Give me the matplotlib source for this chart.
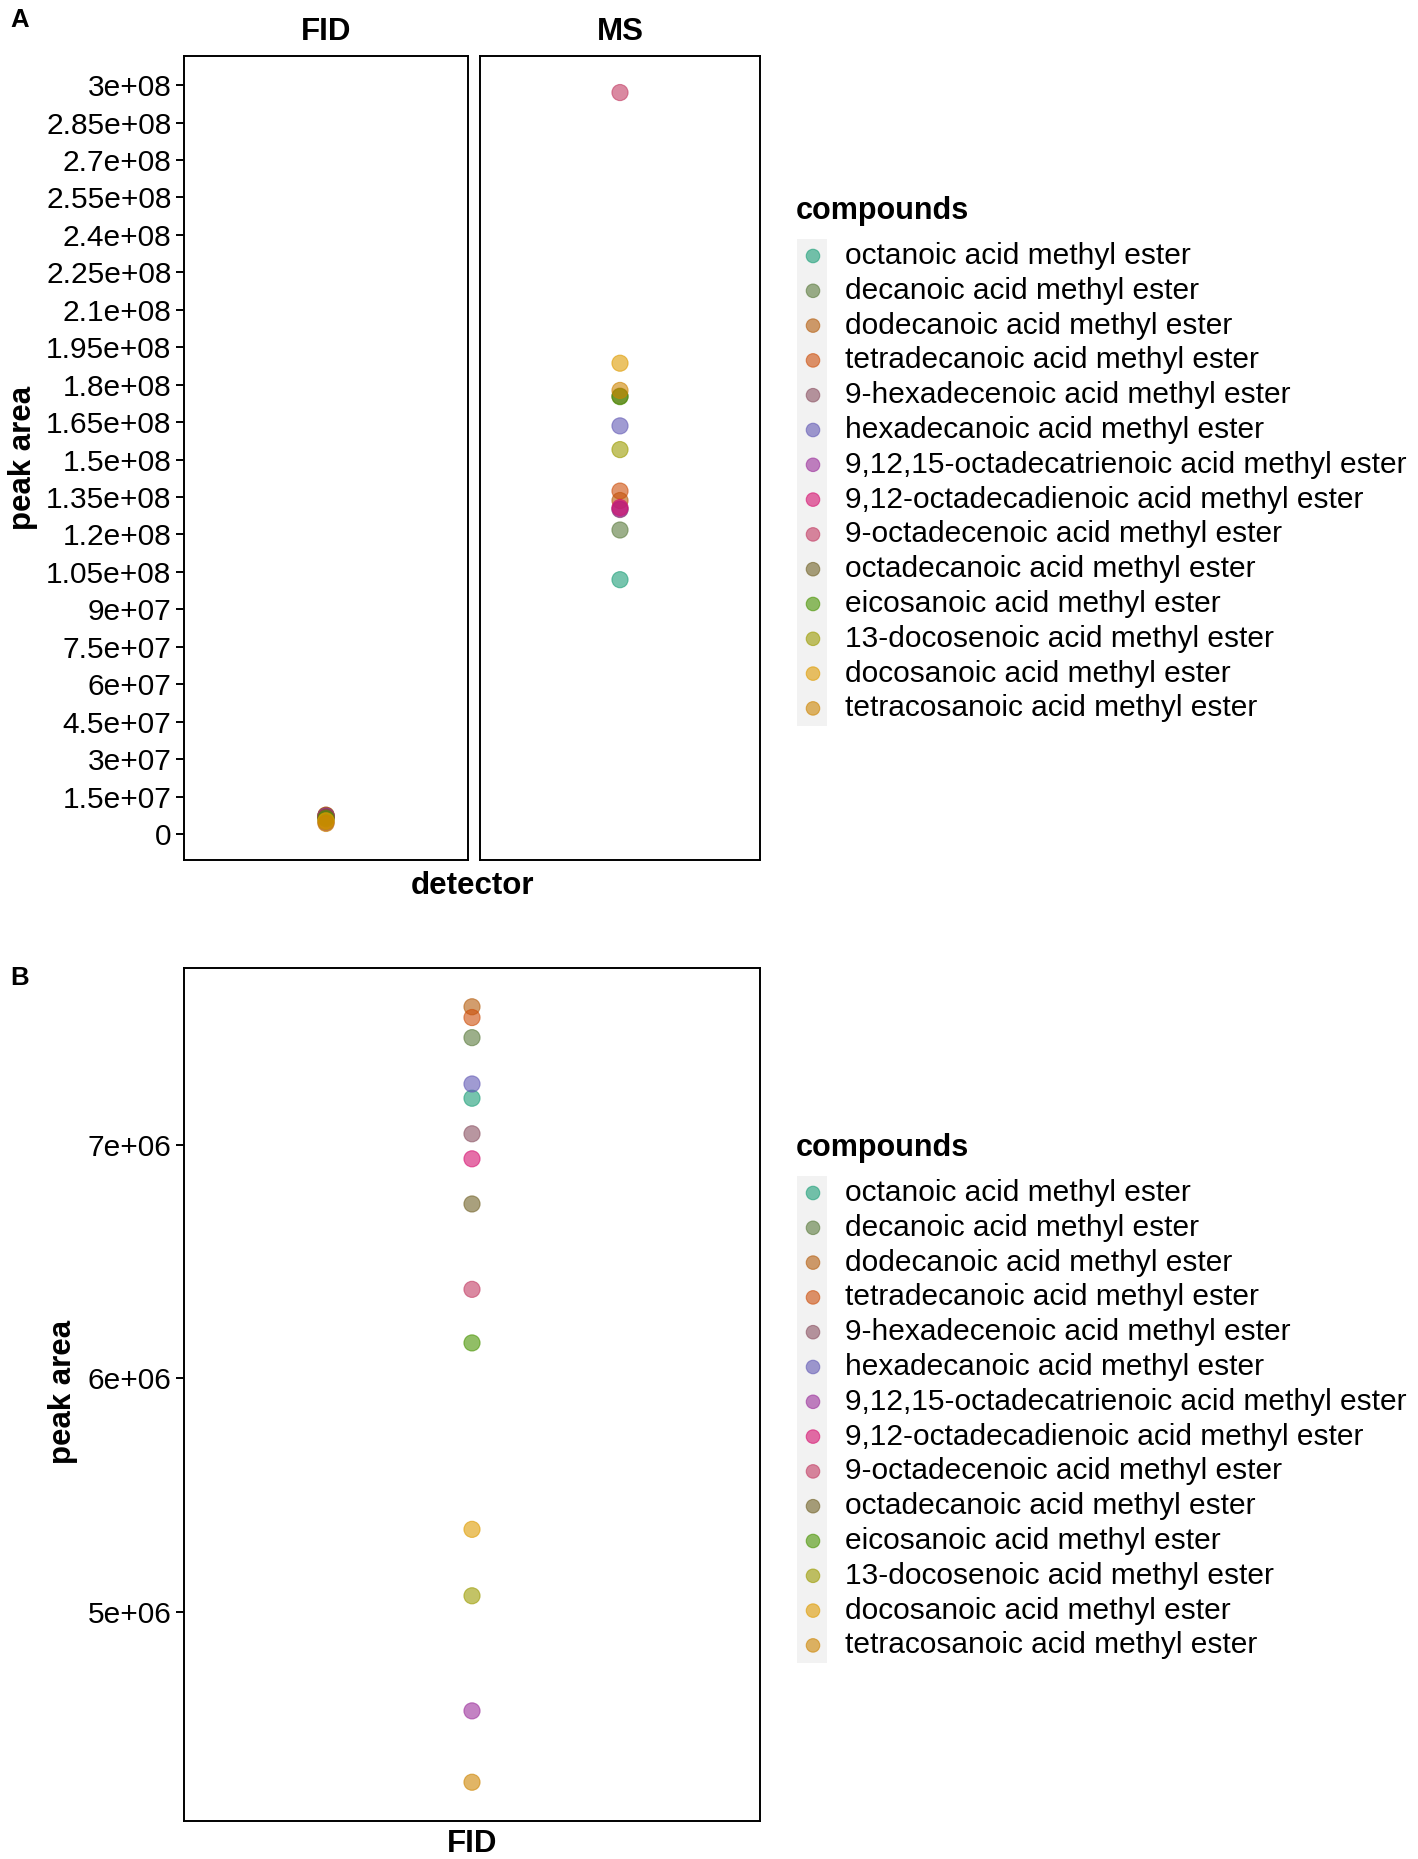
import matplotlib
matplotlib.use("Agg")
from matplotlib import pyplot as plt

plt.rcParams['font.family'] = ['Liberation Sans', 'DejaVu Sans']

# compounds in legend order
compounds = [
    "octanoic acid methyl ester",
    "decanoic acid methyl ester",
    "dodecanoic acid methyl ester",
    "tetradecanoic acid methyl ester",
    "9-hexadecenoic acid methyl ester",
    "hexadecanoic acid methyl ester",
    "9,12,15-octadecatrienoic acid methyl ester",
    "9,12-octadecadienoic acid methyl ester",
    "9-octadecenoic acid methyl ester",
    "octadecanoic acid methyl ester",
    "eicosanoic acid methyl ester",
    "13-docosenoic acid methyl ester",
    "docosanoic acid methyl ester",
    "tetracosanoic acid methyl ester",
]
colors = ["#1B9E77", "#5A7A3C", "#B45C0C", "#CD4E0A", "#8A5061", "#6158B4", "#9B2F9B",
          "#D5106F", "#C23A62", "#716126", "#489300", "#9B9B00", "#DE9B00", "#CD8400"]

# peak areas
fid_area = [7.198e6, 7.457e6, 7.589e6, 7.543e6, 7.046e6, 7.259e6, 4.579e6,
            6.939e6, 6.381e6, 6.746e6, 6.152e6, 5.071e6, 5.355e6, 4.274e6]
ms_area = [1.019e8, 1.218e8, 1.336e8, 1.374e8, 1.300e8, 1.635e8, 1.302e8,
           1.308e8, 2.970e8, 1.754e8, 1.752e8, 1.540e8, 1.886e8, 1.777e8]

ticks_a = [i * 1.5e7 for i in range(21)]
ticks_b = [5e6, 6e6, 7e6]

W, H = 1418, 1859
DPI = 100
ALPHA = 0.6
PT_SIZE = 135
FS = 21.5
STEP = 34.8


def r_label(v):
    # R style scientific labels such as 1.05e+08
    if v == 0:
        return "0"
    s = "%e" % v
    mant, exp = s.split("e")
    mant = mant.rstrip("0").rstrip(".")
    return "%se%s%02d" % (mant, exp[0], abs(int(exp)))


def expand(vals):
    lo, hi = min(vals), max(vals)
    d = (hi - lo) * 0.05
    return lo - d, hi + d


def box(left, top, right, bottom):
    return [left / W, 1 - bottom / H, (right - left) / W, (bottom - top) / H]


def style(ax, ticks, ylim, show_y=True):
    ax.set_xlim(-0.6, 0.6)
    ax.set_ylim(*ylim)
    ax.set_xticks([])
    for sp in ax.spines.values():
        sp.set_linewidth(1.4)
    if show_y:
        ax.set_yticks(ticks)
        ax.set_yticklabels([r_label(t) for t in ticks], fontsize=FS)
        ax.tick_params(axis='y', length=6, width=1.4, pad=3)
    else:
        ax.set_yticks([])


def legend(top_px):
    # entry i sits at y = i; keys on a grey strip like ggplot
    ax = fig.add_axes(box(790, top_px - 2 * STEP, W, top_px + 14 * STEP))
    ax.set_xlim(790, W)
    ax.set_ylim(14, -2)
    ax.axis('off')
    ax.axvspan(797, 827, ymin=(14 - 13.5) / 16, ymax=(14 + 0.5) / 16,
               color="#F2F2F2", lw=0)
    ax.scatter([813] * len(compounds), range(len(compounds)), s=95,
               c=colors, alpha=ALPHA, edgecolors=colors, linewidths=0.8)
    for i, name in enumerate(compounds):
        ax.text(845, i, name, fontsize=FS, va='center', ha='left')
    ax.text(796, -1.3, "compounds", fontsize=FS + 0.5, fontweight='bold',
            va='center', ha='left')


fig = plt.figure(figsize=(W / DPI, H / DPI), dpi=DPI)

# ---- panel A: faceted by detector ----
ylim_a = expand(fid_area + ms_area)
ax_fid = fig.add_axes(box(184, 56, 468, 860))
ax_ms = fig.add_axes(box(480, 56, 760, 860))
ax_fid.scatter([0] * len(fid_area), fid_area, s=PT_SIZE, c=colors, alpha=ALPHA,
               edgecolors=colors, linewidths=0.8, zorder=3)
ax_ms.scatter([0] * len(ms_area), ms_area, s=PT_SIZE, c=colors, alpha=ALPHA,
              edgecolors=colors, linewidths=0.8, zorder=3)
style(ax_fid, ticks_a, ylim_a)
style(ax_ms, ticks_a, ylim_a, show_y=False)
for ax, name in [(ax_fid, "FID"), (ax_ms, "MS")]:
    fig.text((ax.get_position().x0 + ax.get_position().x1) / 2, 1 - 32 / H, name,
             fontsize=FS + 1, fontweight='bold', ha='center', va='center')
fig.text(472 / W, 1 - 886 / H, "detector", fontsize=FS + 1, fontweight='bold',
         ha='center', va='center')
fig.text(23 / W, 1 - 458 / H, "peak area", fontsize=FS + 1, fontweight='bold',
         rotation=90, ha='center', va='center')
fig.text(20 / W, 1 - 20 / H, "A", fontsize=18.5, fontweight='bold', ha='center', va='center')
legend(256)

# ---- panel B: FID only ----
ax_b = fig.add_axes(box(184, 968, 760, 1821))
ax_b.scatter([0] * len(fid_area), fid_area, s=PT_SIZE, c=colors, alpha=ALPHA,
             edgecolors=colors, linewidths=0.8, zorder=3)
style(ax_b, ticks_b, expand(fid_area))
fig.text(472 / W, 1 - 1844 / H, "FID", fontsize=FS + 1, fontweight='bold',
         ha='center', va='center')
fig.text(63 / W, 1 - 1392 / H, "peak area", fontsize=FS + 1, fontweight='bold',
         rotation=90, ha='center', va='center')
fig.text(20 / W, 1 - 978 / H, "B", fontsize=18.5, fontweight='bold', ha='center', va='center')
legend(1193)

fig.savefig("out.png", dpi=DPI)
